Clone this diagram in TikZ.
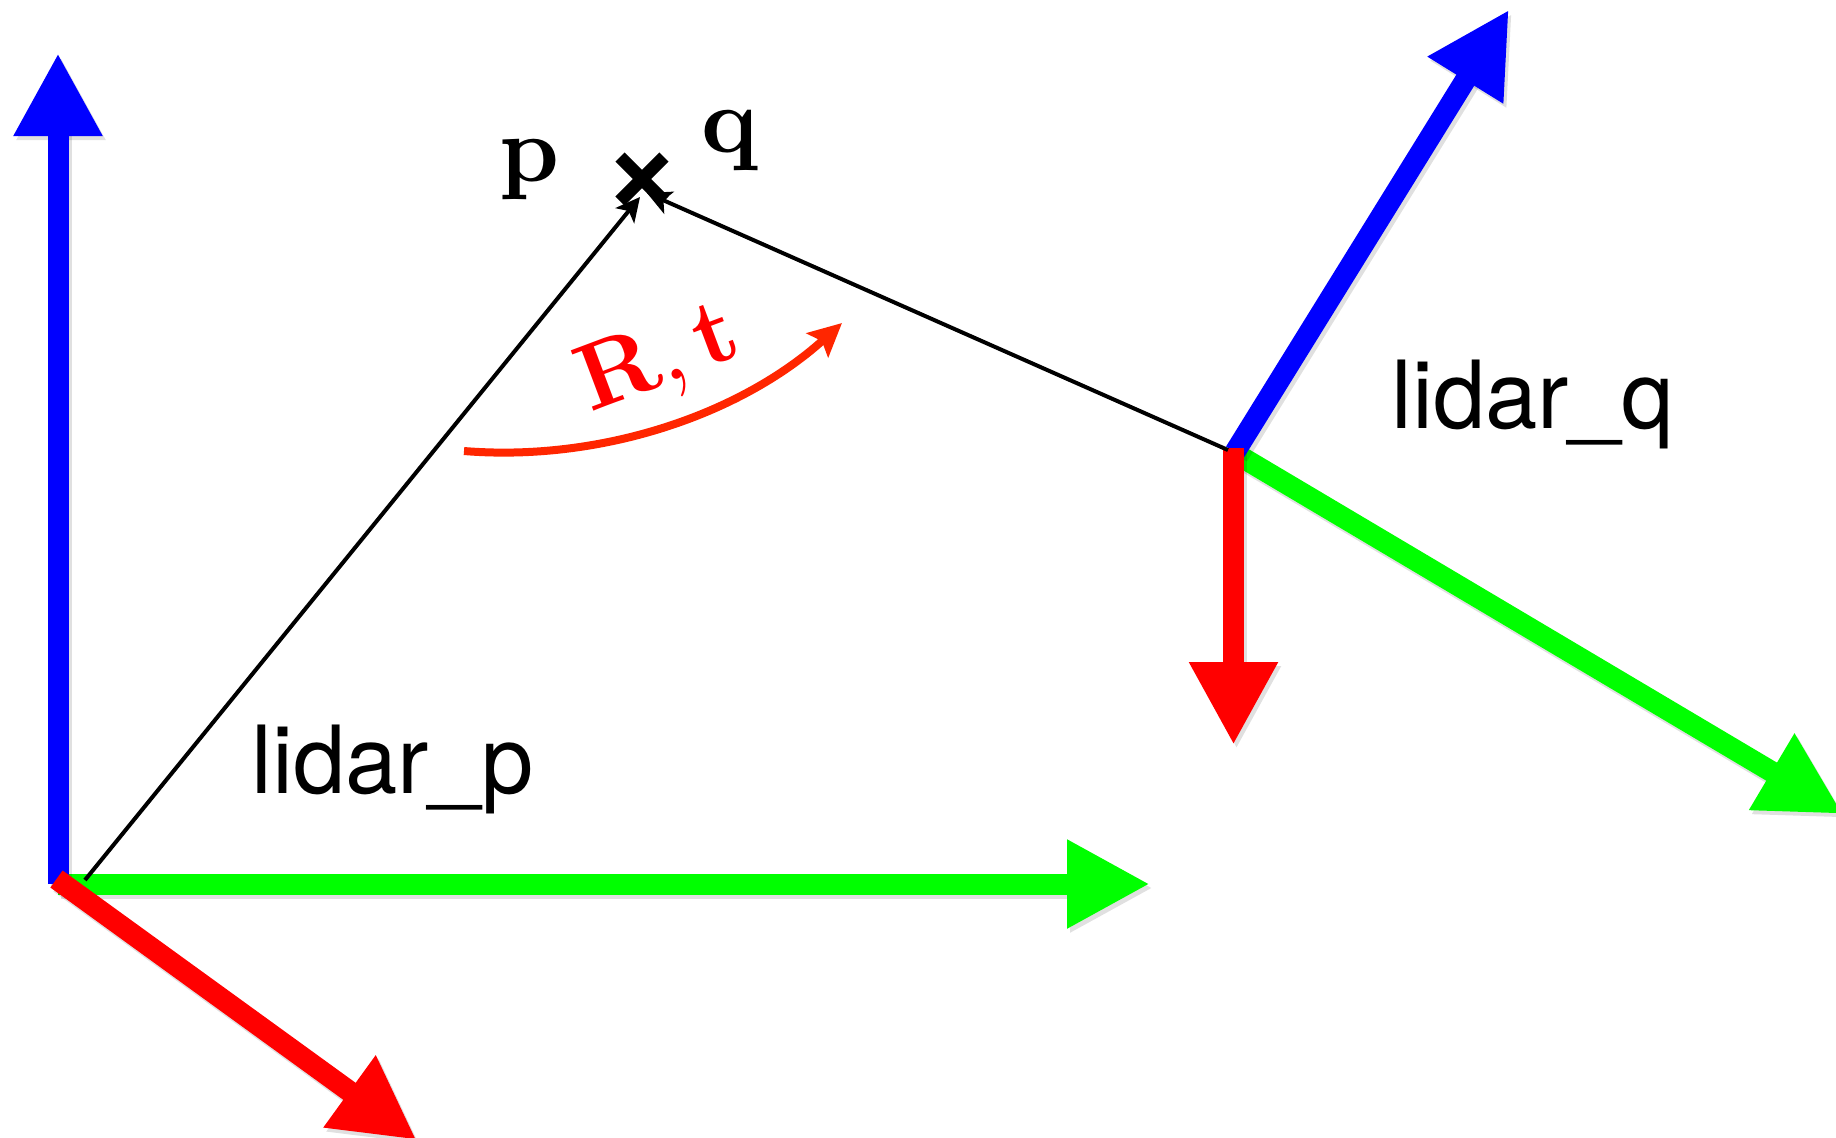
\documentclass[tikz,border=0pt]{standalone}
\usepackage{fontspec}
\newfontfamily\heros{TeX Gyre Heros}
\newfontfamily\lmbx{lmroman10-bold.otf}
\newfontfamily\lmrm{lmroman10-regular.otf}
\usetikzlibrary{arrows.meta,shapes.misc}
\definecolor{axred}{RGB}{255,0,0}
\definecolor{axgreen}{RGB}{0,255,0}
\definecolor{axblue}{RGB}{0,0,255}
\definecolor{arcred}{RGB}{255,38,0}
\tikzset{
  axisarrow/.style={line width=10.5pt, -{Triangle[length=41.5pt,width=41.5pt]}},
  axshadow/.style={axisarrow, black, opacity=0.12,
    transform canvas={shift={(1.5pt,-2pt)}}},
  ray/.style={line width=2pt, black, -{Stealth[length=12pt,width=12pt,inset=3pt]}},
  arcarrow/.style={arcred, line width=4pt, -{Stealth[length=16.5pt,width=16pt,inset=3pt]}},
  ptlabel/.style={anchor=base, inner sep=0pt, font=\lmbx\fontsize{47}{50}\selectfont},
  lidarlbl/.style={anchor=base west, inner sep=0pt, font=\heros\fontsize{47}{50}\selectfont},
  crossmark/.style={cross out, draw, black, line width=6.5pt, minimum size=15.5pt, inner sep=0pt}
}
\newcommand\axarr[3]{%
  \draw[axshadow] (#2) -- (#3);
  \draw[axisarrow,#1] (#2) -- (#3);}
\begin{document}
\begin{tikzpicture}[x=0.5pt,y=-0.5pt]
\path[use as bounding box, fill=white] (0,0) rectangle (1836,1137);
% left frame coordinates
\coordinate (po) at (58,884);
\coordinate (pz) at (58,53);
\coordinate (py) at (1150,884);
\coordinate (prs) at (56.5,879);
\coordinate (pre) at (416.7,1140);
% right frame coordinates
\coordinate (qr0) at (1233.5,448);
\coordinate (qr1) at (1233.5,745);
\coordinate (qb0) at (1235,452);
\coordinate (qb1) at (1509,9.6);
\coordinate (qg0) at (1238,455);
\coordinate (qg1) at (1843,814);
% green and blue axes
\axarr{axgreen}{po}{py}
\axarr{axblue}{po}{pz}
\axarr{axgreen}{qg0}{qg1}
\axarr{axblue}{qb0}{qb1}
% rotation arc
\coordinate (a0) at (464,451);
\coordinate (a1) at (842,323);
\draw[arcarrow] (a0) .. controls (600,462) and (740,415) .. (a1);
\node[ptlabel, text=axred, rotate=20.6] (rt) at (668,383) {R{\lmrm,}\,t};
% red axes
\axarr{axred}{prs}{pre}
\axarr{axred}{qr0}{qr1}
% point and rays
\node[crossmark] (x) at (642,179) {};
\coordinate (lp) at (85,880);
\coordinate (lq) at (1228,450);
\coordinate (tp) at (640,197);
\coordinate (tq) at (647,193);
\draw[ray] (lp) -- (tp);
\draw[ray] (lq) -- (tq);
% labels
\node[ptlabel] (lblp) at (529.5,181) {p};
\node[ptlabel] (lblq) at (730.5,152) {q};
\node[lidarlbl] (lidp) at (251,793) {lidar\_p};
\node[lidarlbl] (lidq) at (1391,428) {lidar\_q};
\end{tikzpicture}
\end{document}
